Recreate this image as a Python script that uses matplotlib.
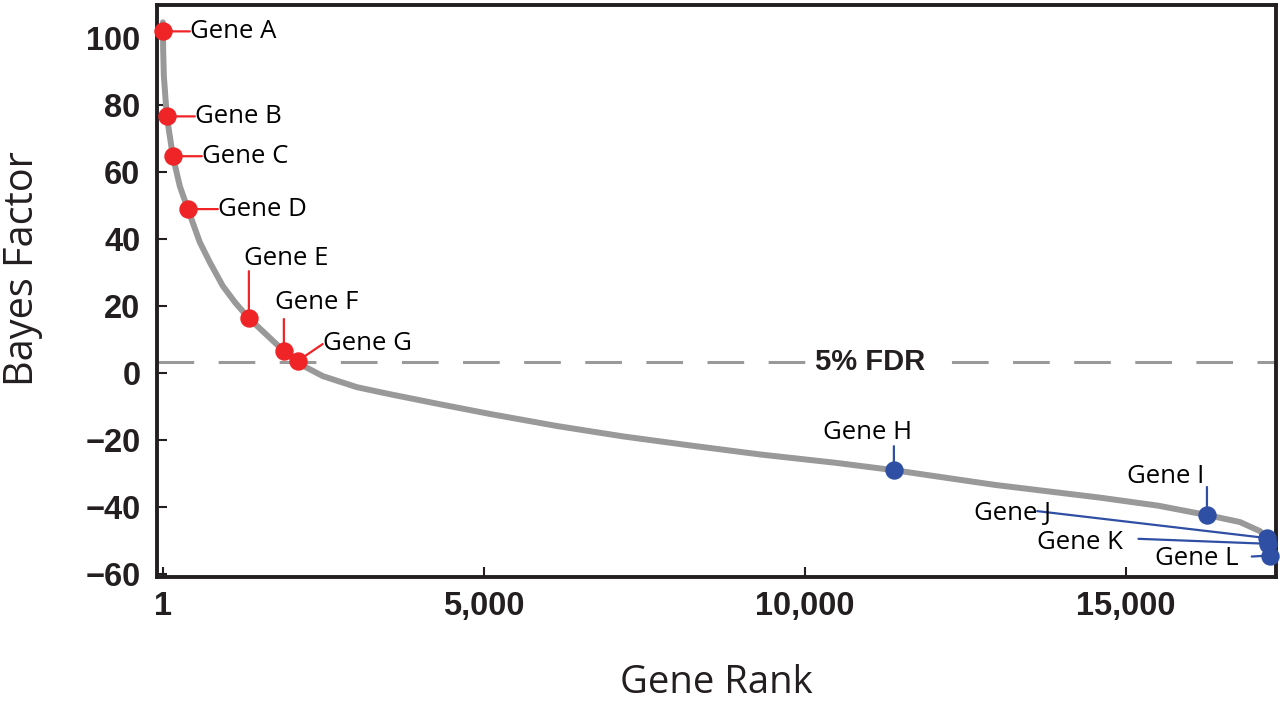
import matplotlib
matplotlib.use('Agg')
import matplotlib.pyplot as plt

# curve of Bayes factor vs gene rank
rank = [1, 5, 16, 62, 156, 265, 390, 576, 732, 935, 1130, 1340, 1885, 2134,
        2492, 3022, 3536, 4315, 5093, 6137, 7165, 8209, 9300, 10480, 11386,
        12960, 14595, 15500, 16262, 16776, 17087, 17200, 17240]
bf = [104.8, 96.7, 88.7, 76.7, 64.8, 55.8, 49, 39.1, 33.1, 26, 21, 16.4, 6.6,
      2.7, -0.9, -4.2, -6.3, -9.3, -12.2, -15.8, -18.9, -21.6, -24.3, -26.8,
      -29, -33.4, -37.2, -39.6, -42.4, -44.5, -47.2, -49.5, -55]

# highlighted genes
up_names = ['Gene A', 'Gene B', 'Gene C', 'Gene D', 'Gene E', 'Gene F', 'Gene G']
up_rank = [1, 62, 156, 390, 1340, 1885, 2100]
up_bf = [102.1, 76.7, 64.8, 49, 16.4, 6.6, 3.6]

down_names = ['Gene H', 'Gene I', 'Gene J', 'Gene K', 'Gene L']
down_rank = [11386, 16262, 17200, 17220, 17240]
down_bf = [-29, -42.4, -49.3, -51, -54.5]

fdr_level = 3.3

# leader end and label position, pixel offsets from the point
up_layout = [((27, 0), (27, 0), 'left'),
             ((28, 0), (28, 0), 'left'),
             ((29, 0), (29, 0), 'left'),
             ((30, 0), (30, 0), 'left'),
             ((0, 47), (37, 60), 'center'),
             ((0, 32), (33, 49), 'center'),
             ((25, 17), (25, 18), 'left')]
down_layout = [((0, 24), (-26, 38), 'center'),
               ((0, 28), (-41, 39), 'center'),
               ((-230, 27), (-255, 25), 'center'),
               ((-130, 5), (-189, 1), 'center'),
               ((-18, -1), (-73, -3), 'center')]

red = '#ee2427'
blue = '#2e4fa3'
dark = '#231f20'
label_font = 'Open Sans'

fig = plt.figure(figsize=(12.8, 7.04), dpi=100)
ax = fig.add_axes([0.1227, 0.18, 0.8743, 0.813])

ax.axhline(fdr_level, color='#999999', lw=2.2, dashes=(12, 8), zorder=1)
ax.text(11010, fdr_level, '5% FDR', ha='center', va='center', fontsize=21,
        fontweight='bold', family='Liberation Sans', color=dark,
        bbox=dict(facecolor='white', edgecolor='none', pad=4), zorder=2)

ax.plot(rank, bf, color='#999999', lw=4.3, solid_capstyle='round',
        solid_joinstyle='round', zorder=3)

for names, xs, ys, layout, col in [(up_names, up_rank, up_bf, up_layout, red),
                                   (down_names, down_rank, down_bf, down_layout, blue)]:
    ax.scatter(xs, ys, s=150, color=col, zorder=5, clip_on=False)
    for n, x, y, (lead, off, ha) in zip(names, xs, ys, layout):
        ax.annotate('', (x, y), xytext=lead, textcoords='offset pixels',
                    zorder=4, annotation_clip=False,
                    arrowprops=dict(arrowstyle='-', color=col, lw=1.6,
                                    shrinkA=0, shrinkB=0))
        ax.annotate(n, (x, y), xytext=off, textcoords='offset pixels',
                    ha=ha, va='center', fontsize=18.5, family=label_font,
                    color='black', zorder=6, annotation_clip=False)

ax.set_xlim(-90, 17340)
ax.set_ylim(-61, 110)
ax.set_xticks([1, 5000, 10000, 15000])
ax.set_xticklabels(['1', '5,000', '10,000', '15,000'])
ax.set_yticks(range(-60, 101, 20))
ax.set_yticklabels(['\u221260', '\u221240', '\u221220', '0', '20', '40', '60', '80', '100'])
for lab in ax.get_xticklabels() + ax.get_yticklabels():
    lab.set_family('Liberation Sans')
    lab.set_fontweight('bold')
    lab.set_fontsize(23.5)
    lab.set_color(dark)
ax.tick_params(direction='in', length=7, width=1.5, color=dark)
ax.tick_params(axis='x', pad=10)
ax.tick_params(axis='y', pad=12)

for s in ax.spines.values():
    s.set_linewidth(2.8)
    s.set_color(dark)

ax.set_xlabel('Gene Rank', fontsize=27.5, family=label_font, color=dark)
ax.set_ylabel('Bayes Factor', fontsize=28.5, family=label_font, color=dark)
ax.xaxis.set_label_coords(0.5, -0.152)
ax.yaxis.set_label_coords(-0.102, 0.54)

fig.savefig('out.png', dpi=100)
